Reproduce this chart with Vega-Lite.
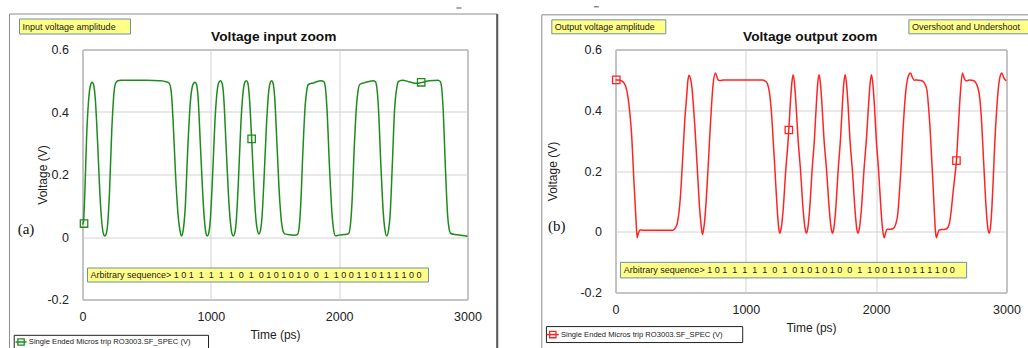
{
  "$schema": "https://vega.github.io/schema/vega-lite/v6.json",
  "background": "white",
  "padding": {"left": 7.5, "top": 5.5, "right": 0, "bottom": 0},
  "spacing": 41,
  "config": {
    "font": "Liberation Sans",
    "view": {"stroke": "#6a6a6a", "strokeWidth": 1},
    "axis": {
      "grid": true, "gridColor": "#d2d2d2", "domain": false, "ticks": false, "tickSize": 0,
      "labelFont": "Liberation Sans", "labelFontSize": 12.5, "labelColor": "#222222",
      "titleFont": "Liberation Sans", "titleFontSize": 12, "titleFontWeight": "normal", "titleColor": "#222222",
      "labelFlush": false, "labelOverlap": false
    }
  },
  "datasets": {
    "inp": [
      {"t":0,"v":0.04},{"t":8,"v":0.05},{"t":18,"v":0.14},{"t":32,"v":0.32},{"t":48,"v":0.44},{"t":62,"v":0.485},{"t":75,"v":0.495},{"t":88,"v":0.485},{"t":100,"v":0.44},{"t":118,"v":0.3},{"t":138,"v":0.12},{"t":152,"v":0.04},{"t":165,"v":0.008},{"t":174,"v":0.003},{"t":183,"v":0.008},{"t":196,"v":0.04},{"t":210,"v":0.14},{"t":228,"v":0.34},{"t":245,"v":0.46},{"t":258,"v":0.492},{"t":275,"v":0.5},{"t":300,"v":0.502},{"t":500,"v":0.502},{"t":600,"v":0.5},{"t":650,"v":0.497},{"t":675,"v":0.492},{"t":690,"v":0.47},{"t":705,"v":0.38},{"t":725,"v":0.2},{"t":745,"v":0.07},{"t":760,"v":0.02},{"t":772,"v":0.003},{"t":784,"v":0.02},{"t":800,"v":0.09},{"t":820,"v":0.28},{"t":840,"v":0.43},{"t":855,"v":0.48},{"t":866,"v":0.492},{"t":876,"v":0.495},{"t":887,"v":0.49},{"t":900,"v":0.45},{"t":918,"v":0.3},{"t":938,"v":0.13},{"t":952,"v":0.045},{"t":963,"v":0.01},{"t":972,"v":0.003},{"t":982,"v":0.01},{"t":995,"v":0.05},{"t":1012,"v":0.18},{"t":1032,"v":0.37},{"t":1050,"v":0.47},{"t":1063,"v":0.495},{"t":1076,"v":0.5},{"t":1088,"v":0.492},{"t":1100,"v":0.45},{"t":1118,"v":0.3},{"t":1138,"v":0.13},{"t":1153,"v":0.045},{"t":1165,"v":0.01},{"t":1175,"v":0.003},{"t":1185,"v":0.01},{"t":1198,"v":0.05},{"t":1215,"v":0.18},{"t":1235,"v":0.37},{"t":1253,"v":0.47},{"t":1265,"v":0.495},{"t":1277,"v":0.5},{"t":1289,"v":0.492},{"t":1300,"v":0.45},{"t":1318,"v":0.314},{"t":1338,"v":0.14},{"t":1353,"v":0.05},{"t":1365,"v":0.018},{"t":1375,"v":0.01},{"t":1385,"v":0.018},{"t":1398,"v":0.06},{"t":1415,"v":0.19},{"t":1435,"v":0.37},{"t":1452,"v":0.47},{"t":1464,"v":0.495},{"t":1474,"v":0.5},{"t":1485,"v":0.492},{"t":1497,"v":0.45},{"t":1515,"v":0.3},{"t":1535,"v":0.13},{"t":1550,"v":0.05},{"t":1562,"v":0.02},{"t":1575,"v":0.01},{"t":1600,"v":0.008},{"t":1650,"v":0.006},{"t":1675,"v":0.008},{"t":1688,"v":0.03},{"t":1700,"v":0.1},{"t":1718,"v":0.28},{"t":1735,"v":0.42},{"t":1748,"v":0.47},{"t":1760,"v":0.488},{"t":1800,"v":0.493},{"t":1860,"v":0.5},{"t":1880,"v":0.497},{"t":1892,"v":0.48},{"t":1905,"v":0.41},{"t":1925,"v":0.22},{"t":1945,"v":0.07},{"t":1958,"v":0.02},{"t":1970,"v":0.004},{"t":2000,"v":0.006},{"t":2060,"v":0.009},{"t":2075,"v":0.012},{"t":2088,"v":0.04},{"t":2100,"v":0.11},{"t":2118,"v":0.29},{"t":2135,"v":0.42},{"t":2148,"v":0.47},{"t":2160,"v":0.488},{"t":2200,"v":0.494},{"t":2265,"v":0.5},{"t":2282,"v":0.497},{"t":2293,"v":0.48},{"t":2305,"v":0.42},{"t":2325,"v":0.23},{"t":2345,"v":0.07},{"t":2358,"v":0.02},{"t":2371,"v":0.003},{"t":2384,"v":0.02},{"t":2397,"v":0.07},{"t":2415,"v":0.24},{"t":2432,"v":0.41},{"t":2448,"v":0.475},{"t":2462,"v":0.497},{"t":2490,"v":0.502},{"t":2560,"v":0.495},{"t":2600,"v":0.492},{"t":2640,"v":0.494},{"t":2700,"v":0.5},{"t":2770,"v":0.502},{"t":2787,"v":0.498},{"t":2798,"v":0.48},{"t":2810,"v":0.41},{"t":2828,"v":0.22},{"t":2845,"v":0.07},{"t":2857,"v":0.025},{"t":2868,"v":0.012},{"t":2900,"v":0.008},{"t":2960,"v":0.005},{"t":3000,"v":0.002}
    ],
    "outp": [
      {"t":0,"v":0.5},{"t":20,"v":0.5},{"t":45,"v":0.497},{"t":65,"v":0.49},{"t":80,"v":0.476},{"t":95,"v":0.445},{"t":108,"v":0.4},{"t":123,"v":0.324},{"t":141,"v":0.17},{"t":156,"v":0.05},{"t":166,"v":-0.02},{"t":176,"v":-0.004},{"t":188,"v":0.006},{"t":210,"v":0.005},{"t":440,"v":0.005},{"t":458,"v":0.012},{"t":473,"v":0.026},{"t":486,"v":0.06},{"t":499,"v":0.12},{"t":510,"v":0.2},{"t":519,"v":0.27},{"t":532,"v":0.37},{"t":545,"v":0.44},{"t":556,"v":0.5},{"t":565,"v":0.515},{"t":575,"v":0.505},{"t":586,"v":0.477},{"t":597,"v":0.42},{"t":609,"v":0.346},{"t":622,"v":0.25},{"t":634,"v":0.16},{"t":645,"v":0.08},{"t":655,"v":0.03},{"t":667,"v":-0.009},{"t":677,"v":0.01},{"t":685,"v":0.04},{"t":697,"v":0.11},{"t":711,"v":0.215},{"t":724,"v":0.32},{"t":736,"v":0.41},{"t":750,"v":0.49},{"t":767,"v":0.523},{"t":778,"v":0.51},{"t":790,"v":0.499},{"t":805,"v":0.498},{"t":830,"v":0.5},{"t":1130,"v":0.5},{"t":1146,"v":0.497},{"t":1160,"v":0.492},{"t":1171,"v":0.48},{"t":1184,"v":0.45},{"t":1197,"v":0.39},{"t":1210,"v":0.3},{"t":1222,"v":0.215},{"t":1233,"v":0.13},{"t":1243,"v":0.06},{"t":1253,"v":0.01},{"t":1261,"v":-0.005},
      {"t":1271,"v":0.01},{"t":1286,"v":0.07},{"t":1306,"v":0.2},{"t":1326,"v":0.31},{"t":1341,"v":0.42},{"t":1353,"v":0.49},{"t":1363,"v":0.517},
      {"t":1373,"v":0.49},{"t":1385,"v":0.42},{"t":1400,"v":0.31},{"t":1420,"v":0.2},{"t":1440,"v":0.07},{"t":1455,"v":0.01},{"t":1465,"v":-0.005},
      {"t":1475,"v":0.01},{"t":1489,"v":0.07},{"t":1508,"v":0.2},{"t":1527,"v":0.31},{"t":1541,"v":0.42},{"t":1552,"v":0.49},{"t":1562,"v":0.517},
      {"t":1572,"v":0.49},{"t":1584,"v":0.42},{"t":1599,"v":0.31},{"t":1620,"v":0.2},{"t":1641,"v":0.07},{"t":1655,"v":0.01},{"t":1665,"v":-0.005},
      {"t":1675,"v":0.01},{"t":1689,"v":0.07},{"t":1708,"v":0.2},{"t":1727,"v":0.31},{"t":1741,"v":0.42},{"t":1752,"v":0.49},{"t":1762,"v":0.517},
      {"t":1772,"v":0.49},{"t":1784,"v":0.42},{"t":1798,"v":0.31},{"t":1818,"v":0.2},{"t":1838,"v":0.07},{"t":1851,"v":0.01},{"t":1861,"v":-0.005},
      {"t":1871,"v":0.01},{"t":1886,"v":0.07},{"t":1906,"v":0.2},{"t":1926,"v":0.31},{"t":1942,"v":0.42},{"t":1954,"v":0.49},{"t":1964,"v":0.517},
      {"t":1974,"v":0.49},{"t":1986,"v":0.42},{"t":2000,"v":0.31},{"t":2019,"v":0.2},{"t":2036,"v":0.08},{"t":2049,"v":0.01},{"t":2061,"v":-0.02},
      {"t":2072,"v":-0.004},{"t":2084,"v":0.008},{"t":2110,"v":0.008},{"t":2135,"v":0.012},{"t":2150,"v":0.025},{"t":2166,"v":0.06},{"t":2180,"v":0.14},{"t":2192,"v":0.22},{"t":2205,"v":0.33},{"t":2217,"v":0.41},{"t":2232,"v":0.48},{"t":2245,"v":0.51},{"t":2263,"v":0.523},{"t":2278,"v":0.508},{"t":2292,"v":0.499},{"t":2310,"v":0.5},{"t":2345,"v":0.498},{"t":2362,"v":0.494},{"t":2376,"v":0.485},{"t":2390,"v":0.465},{"t":2402,"v":0.41},{"t":2415,"v":0.33},{"t":2426,"v":0.24},{"t":2437,"v":0.15},{"t":2447,"v":0.06},{"t":2455,"v":0.0},{"t":2462,"v":-0.02},{"t":2472,"v":-0.006},{"t":2484,"v":0.006},{"t":2530,"v":0.008},{"t":2550,"v":0.014},{"t":2563,"v":0.03},{"t":2576,"v":0.07},{"t":2590,"v":0.13},{"t":2603,"v":0.18},{"t":2616,"v":0.234},{"t":2630,"v":0.34},{"t":2645,"v":0.45},{"t":2662,"v":0.523},{"t":2676,"v":0.505},{"t":2693,"v":0.496},{"t":2715,"v":0.5},{"t":2745,"v":0.498},{"t":2765,"v":0.49},{"t":2780,"v":0.475},{"t":2795,"v":0.44},{"t":2808,"v":0.37},{"t":2820,"v":0.27},{"t":2833,"v":0.16},{"t":2845,"v":0.07},{"t":2856,"v":0.015},{"t":2866,"v":-0.005},{"t":2876,"v":0.01},{"t":2888,"v":0.08},{"t":2900,"v":0.19},{"t":2911,"v":0.3},{"t":2923,"v":0.39},{"t":2937,"v":0.47},{"t":2950,"v":0.51},{"t":2964,"v":0.523},{"t":2978,"v":0.508},{"t":2990,"v":0.5},{"t":3000,"v":0.498}
    ],
    "inm": [{"t":12,"v":0.043},{"t":1318,"v":0.314},{"t":2639,"v":0.495}],
    "outm": [{"t":6,"v":0.5},{"t":1330,"v":0.335},{"t":2616,"v":0.234}],
    "ann": [
      {"p":"a","k":"frame","t":-569,"t2":3230,"v":0.7136,"v2":-0.3744},
      {"p":"a","k":"shadow","t":3232,"v":0.7136,"v2":-0.3744},
      {"p":"a","k":"dash","t":2914,"t2":2953,"v":0.7328},
      {"p":"a","k":"box","t":-491,"t2":374,"v":0.6976,"v2":0.6496},
      {"p":"a","k":"note","t":-467,"v":0.6736,"label":"Input voltage amplitude"},
      {"p":"a","k":"title","t":1490,"v":0.64,"label":"Voltage input zoom"},
      {"p":"a","k":"box","t":39,"t2":2696,"v":-0.0992,"v2":-0.144},
      {"p":"a","k":"note","t":62,"v":-0.1216,"label":"Arbitrary sequence> 1 0 1\u00a0 1\u00a0 1\u00a0 1\u00a0 1\u00a0 0\u00a0 1\u00a0 0 1 0 1 0 1 0\u00a0 0\u00a0 1\u00a0 1 0 0 1 1 0 1 1 1 1 0 0"},
      {"p":"a","k":"legbox","t":-532,"t2":982,"v":-0.3146,"v2":-0.3584},
      {"p":"a","k":"legline","t":-522,"t2":-436,"v":-0.336},
      {"p":"a","k":"legsym","t":-479,"v":-0.336},
      {"p":"a","k":"legtext","t":-418,"v":-0.336,"label":"Single Ended Micros trip RO3003.SF_SPEC (V)"},
      {"p":"a","k":"plabel","t":-440,"v":0.0256,"label":"(a)"},
      {"p":"b","k":"frame","t":-565.6,"t2":3256,"v":0.7141,"v2":-0.3977},
      {"p":"b","k":"dash","t":-166,"t2":-128,"v":0.7405},
      {"p":"b","k":"box","t":-488.6,"t2":386,"v":0.6977,"v2":0.6516},
      {"p":"b","k":"note","t":-466,"v":0.6747,"label":"Output voltage amplitude"},
      {"p":"b","k":"box","t":2251,"t2":3186,"v":0.6977,"v2":0.6516},
      {"p":"b","k":"note","t":2274,"v":0.6747,"label":"Overshoot and Undershoot"},
      {"p":"b","k":"title","t":1494,"v":0.6418,"label":"Voltage output zoom"},
      {"p":"b","k":"box","t":38,"t2":2694,"v":-0.1007,"v2":-0.152},
      {"p":"b","k":"note","t":64,"v":-0.1263,"label":"Arbitrary sequence> 1 0 1\u00a0 1\u00a0 1\u00a0 1\u00a0 1\u00a0 0\u00a0 1\u00a0 0 1 0 1 0 1 0\u00a0 0\u00a0 1\u00a0 1 0 0 1 1 0 1 1 1 1 0 0"},
      {"p":"b","k":"legbox","t":-530,"t2":976,"v":-0.3122,"v2":-0.3648},
      {"p":"b","k":"legline","t":-527,"t2":-435,"v":-0.3385},
      {"p":"b","k":"legsym","t":-481,"v":-0.3385},
      {"p":"b","k":"legtext","t":-419,"v":-0.3385,"label":"Single Ended Micros trip RO3003.SF_SPEC (V)"},
      {"p":"b","k":"plabel","t":-450,"v":0.0184,"label":"(b)"}
    ]
  },
  "hconcat": [
    {
      "width": 385,
      "height": 250,
      "encoding": {
        "x": {"field": "t", "type": "quantitative", "scale": {"domain": [0, 3000], "nice": false, "zero": false},
              "axis": {"title": "Time (ps)", "values": [0, 1000, 2000, 3000], "format": "d", "labelPadding": 11, "titlePadding": 6}},
        "y": {"field": "v", "type": "quantitative", "scale": {"domain": [-0.2, 0.6], "nice": false, "zero": false},
              "axis": {"title": "Voltage (V)", "values": [-0.2, 0, 0.2, 0.4, 0.6], "labelPadding": 14, "titlePadding": -3,
                       "labelExpr": "datum.value < -0.001 ? '-' + format(-datum.value, '.1f') : (abs(datum.value) < 0.001 ? '0' : format(datum.value, '.1f'))"}}
      },
      "layer": [
        {"data": {"name": "ann"}, "transform": [{"filter": "datum.p == 'a' && datum.k == 'frame'"}],
         "mark": {"type": "rect", "filled": false, "color": "#8c8c8c", "strokeWidth": 1},
         "encoding": {"x2": {"field": "t2"}, "y2": {"field": "v2"}}},
        {"data": {"name": "ann"}, "transform": [{"filter": "datum.p == 'a' && datum.k == 'shadow'"}],
         "mark": {"type": "rule", "color": "#5a5a5a", "strokeWidth": 2},
         "encoding": {"y2": {"field": "v2"}}},
        {"data": {"name": "ann"}, "transform": [{"filter": "datum.p == 'a' && datum.k == 'dash'"}],
         "mark": {"type": "rule", "color": "#555555", "strokeWidth": 1},
         "encoding": {"x2": {"field": "t2"}}},
        {"data": {"name": "ann"}, "transform": [{"filter": "datum.p == 'a' && datum.k == 'box'"}],
         "mark": {"type": "rect", "fill": "#ffff88", "stroke": "#6d8fae", "strokeWidth": 1},
         "encoding": {"x2": {"field": "t2"}, "y2": {"field": "v2"}}},
        {"data": {"name": "ann"}, "transform": [{"filter": "datum.p == 'a' && datum.k == 'note'"}],
         "mark": {"type": "text", "align": "left", "baseline": "middle", "fontSize": 9, "color": "#1a1a1a"},
         "encoding": {"text": {"field": "label"}}},
        {"data": {"name": "ann"}, "transform": [{"filter": "datum.p == 'a' && datum.k == 'title'"}],
         "mark": {"type": "text", "align": "center", "baseline": "middle", "fontSize": 13.7, "fontWeight": "bold", "color": "#111111"},
         "encoding": {"text": {"field": "label"}}},
        {"data": {"name": "ann"}, "transform": [{"filter": "datum.p == 'a' && datum.k == 'legbox'"}],
         "mark": {"type": "rect", "fill": "white", "stroke": "#222222", "strokeWidth": 1},
         "encoding": {"x2": {"field": "t2"}, "y2": {"field": "v2"}}},
        {"data": {"name": "ann"}, "transform": [{"filter": "datum.p == 'a' && datum.k == 'legline'"}],
         "mark": {"type": "rule", "color": "#1d8c1d", "strokeWidth": 1.5},
         "encoding": {"x2": {"field": "t2"}}},
        {"data": {"name": "ann"}, "transform": [{"filter": "datum.p == 'a' && datum.k == 'legsym'"}],
         "mark": {"type": "point", "shape": "square", "filled": false, "size": 40, "color": "#1d8c1d", "strokeWidth": 1.3, "opacity": 1}},
        {"data": {"name": "ann"}, "transform": [{"filter": "datum.p == 'a' && datum.k == 'legtext'"}],
         "mark": {"type": "text", "align": "left", "baseline": "middle", "fontSize": 7.6, "color": "#1a1a1a"},
         "encoding": {"text": {"field": "label"}}},
        {"data": {"name": "ann"}, "transform": [{"filter": "datum.p == 'a' && datum.k == 'plabel'"}],
         "mark": {"type": "text", "align": "center", "baseline": "middle", "fontSize": 15, "font": "Liberation Serif", "color": "#111111"},
         "encoding": {"text": {"field": "label"}}},
        {"data": {"name": "inp"},
         "mark": {"type": "line", "interpolate": "monotone", "color": "#1d8c1d", "strokeWidth": 1.5}},
        {"data": {"name": "inm"},
         "mark": {"type": "point", "shape": "square", "filled": false, "size": 55, "color": "#1d8c1d", "strokeWidth": 1.3, "opacity": 1}}
      ]
    },
    {
      "width": 391,
      "height": 243,
      "encoding": {
        "x": {"field": "t", "type": "quantitative", "scale": {"domain": [0, 3000], "nice": false, "zero": false},
              "axis": {"title": "Time (ps)", "values": [0, 1000, 2000, 3000], "format": "d", "labelPadding": 11, "titlePadding": 6}},
        "y": {"field": "v", "type": "quantitative", "scale": {"domain": [-0.2, 0.6], "nice": false, "zero": false},
              "axis": {"title": "Voltage (V)", "values": [-0.2, 0, 0.2, 0.4, 0.6], "labelPadding": 14, "titlePadding": 20,
                       "labelExpr": "datum.value < -0.001 ? '-' + format(-datum.value, '.1f') : (abs(datum.value) < 0.001 ? '0' : format(datum.value, '.1f'))"}}
      },
      "layer": [
        {"data": {"name": "ann"}, "transform": [{"filter": "datum.p == 'b' && datum.k == 'frame'"}],
         "mark": {"type": "rect", "filled": false, "color": "#8c8c8c", "strokeWidth": 1},
         "encoding": {"x2": {"field": "t2"}, "y2": {"field": "v2"}}},
        {"data": {"name": "ann"}, "transform": [{"filter": "datum.p == 'b' && datum.k == 'dash'"}],
         "mark": {"type": "rule", "color": "#555555", "strokeWidth": 1},
         "encoding": {"x2": {"field": "t2"}}},
        {"data": {"name": "ann"}, "transform": [{"filter": "datum.p == 'b' && datum.k == 'box'"}],
         "mark": {"type": "rect", "fill": "#ffff88", "stroke": "#6d8fae", "strokeWidth": 1},
         "encoding": {"x2": {"field": "t2"}, "y2": {"field": "v2"}}},
        {"data": {"name": "ann"}, "transform": [{"filter": "datum.p == 'b' && datum.k == 'note'"}],
         "mark": {"type": "text", "align": "left", "baseline": "middle", "fontSize": 9, "color": "#1a1a1a"},
         "encoding": {"text": {"field": "label"}}},
        {"data": {"name": "ann"}, "transform": [{"filter": "datum.p == 'b' && datum.k == 'title'"}],
         "mark": {"type": "text", "align": "center", "baseline": "middle", "fontSize": 13.7, "fontWeight": "bold", "color": "#111111"},
         "encoding": {"text": {"field": "label"}}},
        {"data": {"name": "ann"}, "transform": [{"filter": "datum.p == 'b' && datum.k == 'legbox'"}],
         "mark": {"type": "rect", "fill": "white", "stroke": "#222222", "strokeWidth": 1},
         "encoding": {"x2": {"field": "t2"}, "y2": {"field": "v2"}}},
        {"data": {"name": "ann"}, "transform": [{"filter": "datum.p == 'b' && datum.k == 'legline'"}],
         "mark": {"type": "rule", "color": "#ff2424", "strokeWidth": 1.5},
         "encoding": {"x2": {"field": "t2"}}},
        {"data": {"name": "ann"}, "transform": [{"filter": "datum.p == 'b' && datum.k == 'legsym'"}],
         "mark": {"type": "point", "shape": "square", "filled": false, "size": 40, "color": "#ff2424", "strokeWidth": 1.3, "opacity": 1}},
        {"data": {"name": "ann"}, "transform": [{"filter": "datum.p == 'b' && datum.k == 'legtext'"}],
         "mark": {"type": "text", "align": "left", "baseline": "middle", "fontSize": 7.6, "color": "#1a1a1a"},
         "encoding": {"text": {"field": "label"}}},
        {"data": {"name": "ann"}, "transform": [{"filter": "datum.p == 'b' && datum.k == 'plabel'"}],
         "mark": {"type": "text", "align": "center", "baseline": "middle", "fontSize": 15, "font": "Liberation Serif", "color": "#111111"},
         "encoding": {"text": {"field": "label"}}},
        {"data": {"name": "outp"},
         "mark": {"type": "line", "interpolate": "monotone", "color": "#ff2424", "strokeWidth": 1.5}},
        {"data": {"name": "outm"},
         "mark": {"type": "point", "shape": "square", "filled": false, "size": 55, "color": "#ff2424", "strokeWidth": 1.3, "opacity": 1}}
      ]
    }
  ]
}
